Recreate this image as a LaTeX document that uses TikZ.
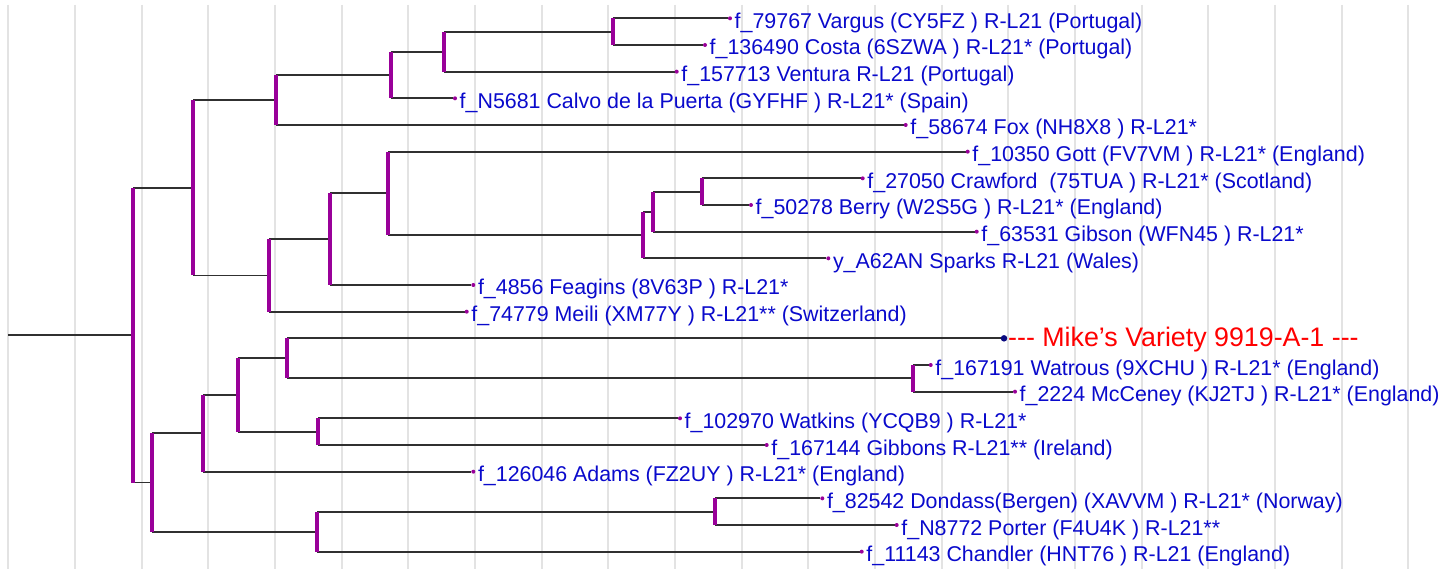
\documentclass[tikz,border=0pt]{standalone}
\usepackage{fontspec}
\setmainfont{Liberation Sans}
\usetikzlibrary{calc}
\definecolor{gridc}{HTML}{E3E3E3}
\definecolor{purp}{HTML}{990099}
\definecolor{hl}{HTML}{303030}
\definecolor{lblue}{HTML}{0A0ACC}
\definecolor{mred}{HTML}{FF0000}
\definecolor{navy}{HTML}{0A0A80}
\pgfdeclarelayer{gridlayer}
\pgfdeclarelayer{linelayer}
\pgfsetlayers{gridlayer,linelayer,main}
\begin{document}
\begin{tikzpicture}[x=1pt,y=-1pt,
  gridline/.style={draw=gridc,line width=2pt},
  hline/.style={draw=hl,line width=1.8pt},
  vline/.style={draw=purp,line width=3.8pt},
  leafdot/.style={circle,fill=purp,inner sep=0pt,minimum size=4pt},
  mikedot/.style={circle,fill=navy,inner sep=0pt,minimum size=6.5pt},
  lbl/.style={text=lblue,font=\fontsize{21.4}{25}\selectfont,inner sep=0pt,anchor=base west},
  mikelbl/.style={text=mred,font=\fontsize{26.8}{30}\selectfont,inner sep=0pt,anchor=base west}]
\useasboundingbox (0,0) rectangle (1452,569);
% grid
\begin{pgfonlayer}{gridlayer}
\fill[white] (0,0) rectangle (1452,569);
\foreach \k in {0,...,21} {
  \draw[gridline] ({8.33+66.667*\k},5) -- ({8.33+66.667*\k},569);
}
\end{pgfonlayer}
% leaves
\foreach \n/\x/\i/\t in {
  vargus/730/1/f\_79767 Vargus (CY5FZ ) R-L21 (Portugal),
  costa/705/2/f\_136490 Costa (6SZWA ) R-L21* (Portugal),
  ventura/676.7/3/f\_157713 Ventura R-L21 (Portugal),
  calvo/455/4/f\_N5681 Calvo de la Puerta (GYFHF ) R-L21* (Spain),
  fox/905.7/5/f\_58674 Fox (NH8X8 ) R-L21*,
  gott/967.7/6/f\_10350 Gott (FV7VM ) R-L21* (England),
  crawford/862.7/7/f\_27050 Crawford\ \ (75TUA ) R-L21* (Scotland),
  berry/751/8/f\_50278 Berry (W2S5G ) R-L21* (England),
  gibson/976.7/9/f\_63531 Gibson (WFN45 ) R-L21*,
  sparks/828.3/10/y\_A62AN Sparks R-L21 (Wales),
  feagins/473.3/11/f\_4856 Feagins (8V63P ) R-L21*,
  meili/466.7/12/f\_74779 Meili (XM77Y ) R-L21** (Switzerland),
  watrous/930.7/14/f\_167191 Watrous (9XCHU ) R-L21* (England),
  mcceney/1015/15/f\_2224 McCeney (KJ2TJ ) R-L21* (England),
  watkins/680/16/f\_102970 Watkins (YCQB9 ) R-L21*,
  gibbons/766.7/17/f\_167144 Gibbons R-L21** (Ireland),
  adams/473.3/18/f\_126046 Adams (FZ2UY ) R-L21* (England),
  dondass/822.3/19/f\_82542 Dondass(Bergen) (XAVVM ) R-L21* (Norway),
  porter/896.7/20/f\_N8772 Porter (F4U4K ) R-L21**,
  chandler/861.7/21/f\_11143 Chandler (HNT76 ) R-L21 (England)} {
  \node[leafdot] (\n) at (\x,{18.33+26.667*(\i-1)}) {};
  \node[lbl] (\n-l) at ($(\n)+(4.5,10)$) {\t};
}
\node[mikedot] (mike) at (1004,338.33) {};
\node[mikelbl] (mike-l) at ($(mike)+(4,8.6)$) {-{}-{}- Mike’s Variety 9919-A-1 -{}-{}-};
% internal nodes
\coordinate (A) at (612.7,31.67);
\coordinate (B) at (444.3,51.67);
\coordinate (C) at (390.7,75);
\coordinate (D) at (276,100);
\coordinate (E) at (701.7,191.67);
\coordinate (F) at (653.3,211.67);
\coordinate (G) at (643.3,235);
\coordinate (H) at (388.3,193.33);
\coordinate (I) at (330,239.17);
\coordinate (J) at (269,275.42);
\coordinate (K) at (193.3,187.71);
\coordinate (L) at (913.3,378.33);
\coordinate (M) at (287.3,358.33);
\coordinate (N) at (318.3,431.67);
\coordinate (O) at (237.7,395);
\coordinate (P) at (203.3,433.33);
\coordinate (Q) at (715,511.67);
\coordinate (R) at (317.3,531.67);
\coordinate (S) at (152.3,482.5);
\coordinate (root) at (133,335.1);
\coordinate (rootstem) at (8.33,335.1);
\begin{pgfonlayer}{linelayer}
\draw[hline] (rootstem) -- (root);
\foreach \p/\a/\b in {A/vargus/costa, B/A/ventura, C/B/calvo, D/C/fox,
  E/crawford/berry, F/E/gibson, G/F/sparks, H/gott/G, I/H/feagins,
  J/I/meili, K/D/J, L/watrous/mcceney, M/mike/L, N/watkins/gibbons,
  O/M/N, P/O/adams, Q/dondass/porter, R/Q/chandler, S/P/R, root/K/S} {
  \draw[hline] (\p|-\a) -- (\a);
  \draw[hline] (\p|-\b) -- (\b);
}
\foreach \p/\a/\b in {A/vargus/costa, B/A/ventura, C/B/calvo, D/C/fox,
  E/crawford/berry, F/E/gibson, G/F/sparks, H/gott/G, I/H/feagins,
  J/I/meili, K/D/J, L/watrous/mcceney, M/mike/L, N/watkins/gibbons,
  O/M/N, P/O/adams, Q/dondass/porter, R/Q/chandler, S/P/R, root/K/S} {
  \draw[vline] (\p|-\a) -- (\p|-\b);
}
\end{pgfonlayer}
\end{tikzpicture}
\end{document}
